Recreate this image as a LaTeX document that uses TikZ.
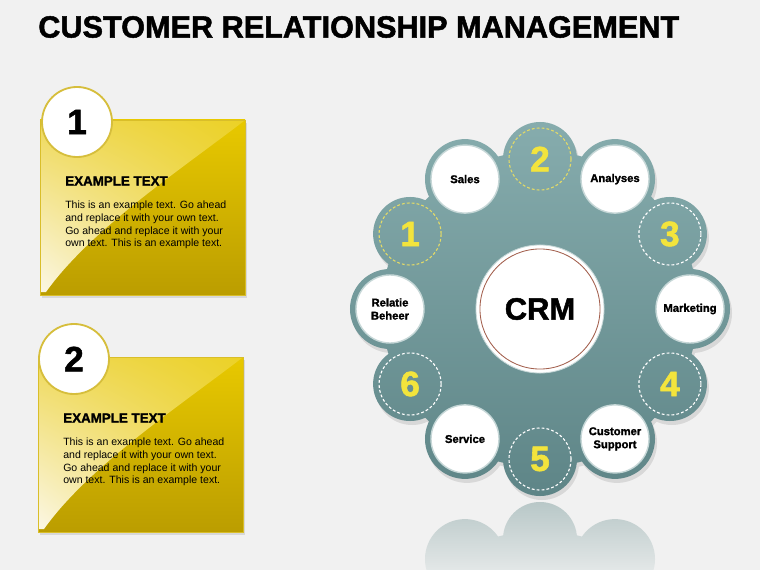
\documentclass[tikz,border=0pt]{standalone}
\usepackage{fontspec}
\setmainfont{Liberation Sans}
\newfontfamily\heavyfont{Liberation Sans}[BoldFeatures={FakeBold=1.6}]
\usetikzlibrary{positioning,calc,shadings}
\definecolor{crmbg}{HTML}{F1F1F1}
\definecolor{crmtealhi}{HTML}{86ACAD}
\definecolor{crmteallo}{HTML}{5E8587}
\definecolor{crmrefl}{HTML}{B6C6C6}
\definecolor{crmreflend}{HTML}{E3E7E7}
\definecolor{crmgold}{HTML}{E8C900}
\definecolor{crmgolddk}{HTML}{BB9D00}
\definecolor{crmgoldedge}{HTML}{D9BE2A}
\definecolor{crmsheen}{HTML}{EFD95A}
\definecolor{crmcream}{HTML}{FBF7E4}
\definecolor{crmbadge}{HTML}{D6BE3C}
\definecolor{crmyellow}{HTML}{F3E43C}
\definecolor{crmdash}{HTML}{E2DA68}
\definecolor{crmbrown}{HTML}{A25E4C}
\definecolor{crmring}{HTML}{C6D7D7}
\tikzset{
  pagetitle/.style={font=\heavyfont\bfseries\fontsize{21.8}{24}\selectfont,inner sep=0pt},
  badge/.style={circle,fill=white,draw=crmbadge,line width=1.3pt,minimum size=1.75cm,inner sep=0pt,font=\heavyfont\bfseries\fontsize{25}{25}\selectfont},
  cardhead/.style={anchor=west,inner sep=0pt,font=\heavyfont\bfseries\fontsize{9.5}{11}\selectfont},
  cardtext/.style={anchor=west,inner sep=0pt,align=left,font=\fontsize{7.5}{9}\selectfont},
  hub/.style={circle,fill=white,draw=crmring,line width=1pt,minimum size=1.7cm,inner sep=0pt,align=center,font=\heavyfont\bfseries\fontsize{8}{9.3}\selectfont},
  numring/.style={circle,dashed,dash pattern=on 2pt off 1.5pt,line width=.8pt,minimum size=1.55cm,inner sep=0pt,text=crmyellow,font=\heavyfont\bfseries\fontsize{25}{25}\selectfont},
  core/.style={circle,fill=white,draw=crmring,line width=.6pt,minimum size=3.2cm,inner sep=0pt,font=\heavyfont\bfseries\fontsize{22}{22}\selectfont},
}
\begin{document}
\begin{tikzpicture}[x=0.025cm,y=-0.025cm]
  \useasboundingbox (0,0) rectangle (760,570);
  \fill[crmbg] (0,0) rectangle (760,570);
  \node[pagetitle,anchor=west] (title) at (38,27) {CUSTOMER RELATIONSHIP MANAGEMENT};

  % yellow cards
  \foreach \i/\lx/\ty/\bx in {1/40/120/77,2/38/357/74}{
    \fill[black,opacity=.10] (\lx+2,\ty+3) rectangle (\lx+207,\ty+178);
    \shade[top color=crmgold,bottom color=crmgolddk] (\lx,\ty) rectangle (\lx+205,\ty+175);
    \shade[upper left=crmsheen,upper right=crmgold!85!white,lower left=crmcream,lower right=crmsheen]
      (\lx+1,\ty+1) -- (\lx+204,\ty+1) .. controls (\lx+140,\ty+50) and (\lx+50,\ty+110) .. (\lx+6,\ty+172) -- (\lx+1,\ty+172) -- cycle;
    \draw[crmgoldedge,line width=.6pt] (\lx,\ty) rectangle (\lx+205,\ty+175);
    \node[badge] (badge\i) at (\bx,\ty+2) {\i};
    \node[cardhead] (head\i) at (\lx+25,\ty+61) {EXAMPLE TEXT};
    \node[cardtext] (text\i) at (\lx+25,\ty+105) {This is an example text. Go ahead\\and replace it with your own text.\\Go ahead and replace it with your\\own text. This is an example text.};
  }

  % teal flower
  \coordinate (ctr) at (540,309);
  \fill[black,opacity=.10] ($(ctr)+(2,4)$) circle (3.95cm)
    \foreach \ang in {0,60,...,300}{ ($(ctr)+(2,4)+(\ang:150)$) circle (1cm) }
    \foreach \ang in {30,90,...,330}{ ($(ctr)+(2,4)+(\ang:150)$) circle (0.925cm) };
  \shade[top color=crmtealhi,bottom color=crmteallo] (ctr) circle (3.95cm)
    \foreach \ang in {0,60,...,300}{ ($(ctr)+(\ang:150)$) circle (1cm) }
    \foreach \ang in {30,90,...,330}{ ($(ctr)+(\ang:150)$) circle (0.925cm) };

  % reflection
  \begin{scope}
    \clip (330,499) rectangle (760,570);
    \clip (540,689) circle (3.95cm)
      \foreach \ang in {0,60,...,300}{ ($(540,689)+(-\ang:150)$) circle (1cm) }
      \foreach \ang in {30,90,...,330}{ ($(540,689)+(-\ang:150)$) circle (0.925cm) };
    \shade[top color=crmrefl,bottom color=crmreflend] (330,499) rectangle (760,570);
  \end{scope}

  \node[core] (crm) at (ctr) {CRM};
  \draw[crmbrown,line width=.6pt] (crm.center) circle (1.5cm);

  \foreach \ang/\nm/\lbl in {240/sales/Sales,300/analyses/Analyses,0/marketing/Marketing,
      60/support/{Customer\\Support},120/service/Service,180/relatie/{Relatie\\Beheer}}
    \node[hub] (\nm) at ($(ctr)+(\ang:150)$) {\lbl};

  \foreach \ang/\num/\col in {210/1/crmdash,270/2/crmdash,330/3/white,30/4/white,90/5/white,150/6/white}
    \node[numring,draw=\col] (step\num) at ($(ctr)+(\ang:150)$) {\num};
\end{tikzpicture}
\end{document}
